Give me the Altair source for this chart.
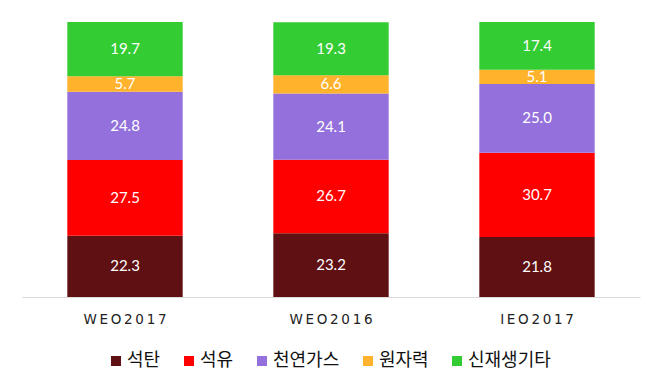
import altair as alt
import pandas as pd

categories = ["WEO2017", "WEO2016", "IEO2017"]
sources = ["석탄", "석유", "천연가스", "원자력", "신재생기타"]
colors = ["#5E1012", "#FF0000", "#9370DB", "#FFB22C", "#33CC33"]
values = {
    "석탄": [22.3, 23.2, 21.8],
    "석유": [27.5, 26.7, 30.7],
    "천연가스": [24.8, 24.1, 25.0],
    "원자력": [5.7, 6.6, 5.1],
    "신재생기타": [19.7, 19.3, 17.4],
}

rows = []
for si, s in enumerate(sources):
    for ci, c in enumerate(categories):
        rows.append({"cat": c, "src": s, "val": values[s][ci], "ord": si})
df = pd.DataFrame(rows)

base = alt.Chart(df).transform_stack(
    stack="val", groupby=["cat"], as_=["y0", "y1"],
    sort=[alt.SortField("ord", order="ascending")]
).transform_calculate(mid="(datum.y0 + datum.y1) / 2")

xenc = alt.X("cat:N", sort=categories, title=None,
             scale=alt.Scale(paddingInner=0.44, paddingOuter=0.22),
             axis=alt.Axis(labelAngle=0, ticks=False, domainColor="#D9D9D9",
                           labelFont="DejaVu Sans", labelFontSize=13.5, labelColor="#222222",
                           labelPadding=15,
                           labelExpr="join(split(datum.label, ''), '\u2009')"))

bars = base.mark_bar().encode(
    x=xenc,
    y=alt.Y("y0:Q", scale=alt.Scale(domain=[0, 100]), axis=None, title=None),
    y2="y1:Q",
    color=alt.Color("src:N", sort=sources,
                    scale=alt.Scale(domain=sources, range=colors),
                    legend=alt.Legend(orient="none", legendX=85, legendY=330,
                                      direction="horizontal", title=None,
                                      symbolType="square", symbolSize=100,
                                      labelFont="Noto Sans CJK KR", labelFontSize=18,
                                      labelColor="#111111", columnPadding=19,
                                      labelOffset=2, padding=0,
                                      symbolStrokeWidth=0)),
)

labels = base.mark_text(color="white", font="Lato", fontSize=15).encode(
    x=alt.X("cat:N", sort=categories),
    y=alt.Y("mid:Q"),
    text=alt.Text("val:Q", format=".1f"),
)

chart = (bars + labels).properties(
    width=618, height=275,
    padding={"left": 14, "top": 14, "right": 5, "bottom": 5},
).configure_view(stroke=None)

chart.save("out.html", embed_options={"renderer": "svg", "actions": False})
